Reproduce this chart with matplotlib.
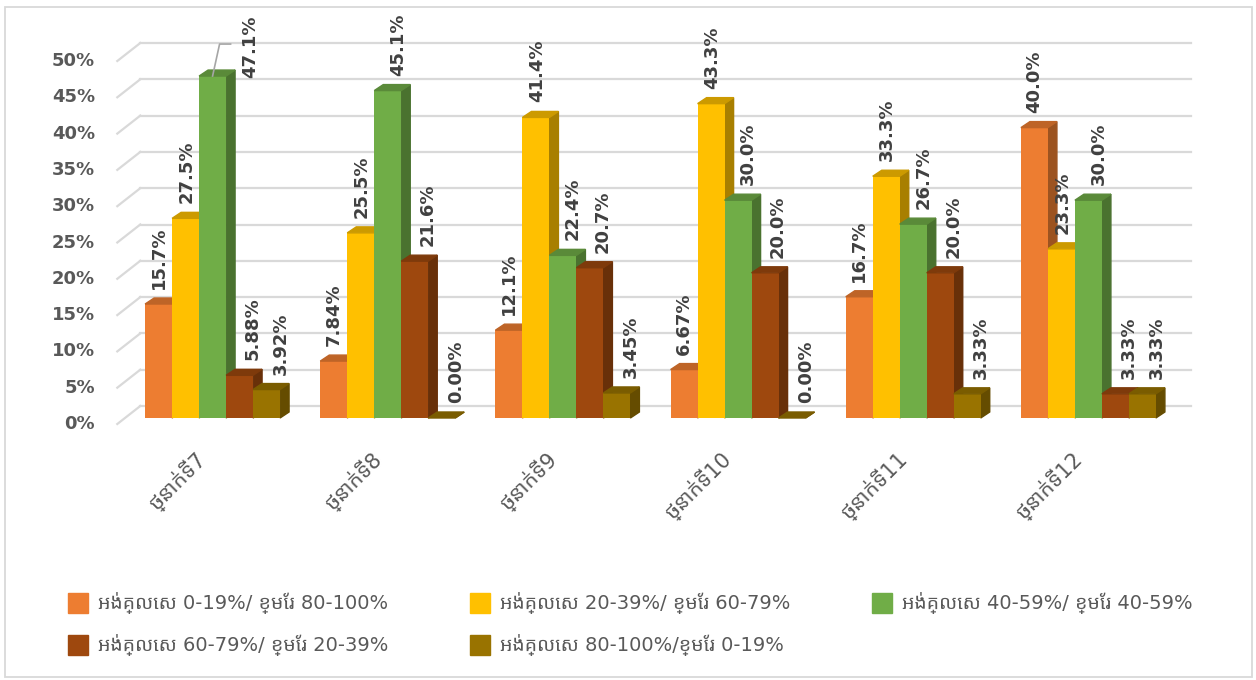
import matplotlib
matplotlib.use("Agg")
import matplotlib.pyplot as plt
from matplotlib.patches import Polygon, Rectangle
from matplotlib import font_manager, ft2font


# grade levels and the five score bands (percent of students)
grades = ["ថ្នាក់ទី7", "ថ្នាក់ទី8", "ថ្នាក់ទី9", "ថ្នាក់ទី10", "ថ្នាក់ទី11", "ថ្នាក់ទី12"]
band_names = [
    "អង់គ្លេស 0-19%/ ខ្មែរ 80-100%",
    "អង់គ្លេស 20-39%/ ខ្មែរ 60-79%",
    "អង់គ្លេស 40-59%/ ខ្មែរ 40-59%",
    "អង់គ្លេស 60-79%/ ខ្មែរ 20-39%",
    "អង់គ្លេស 80-100%/ខ្មែរ 0-19%",
]
band_0_19 = [15.7, 7.84, 12.1, 6.67, 16.7, 40.0]
band_20_39 = [27.5, 25.5, 41.4, 43.3, 33.3, 23.3]
band_40_59 = [47.1, 45.1, 22.4, 30.0, 26.7, 30.0]
band_60_79 = [5.88, 21.6, 20.7, 20.0, 20.0, 3.33]
band_80_100 = [3.92, 0.00, 3.45, 0.00, 3.33, 3.33]
bands = [band_0_19, band_20_39, band_40_59, band_60_79, band_80_100]
y_ticks = [0, 5, 10, 15, 20, 25, 30, 35, 40, 45, 50]

colors = ["#ED7D31", "#FFC000", "#70AD47", "#9E480E", "#997300"]


def khmer_family():
    # pick an installed font with Khmer glyphs, proportional sans preferred
    found = []
    for f in font_manager.fontManager.ttflist:
        try:
            if 0x1780 in ft2font.FT2Font(f.fname).get_charmap():
                found.append(f.name)
        except Exception:
            pass
    if not found:
        return None

    def rank(name):
        n = name.lower()
        return ('khmer' not in n, 'mono' in n, 'sans' not in n, n)
    return sorted(set(found), key=rank)[0]


kh = khmer_family()
plt.rcParams['font.family'] = ['DejaVu Sans', kh] if kh else ['DejaVu Sans']


def shade(hex_color, k):
    r, g, b = matplotlib.colors.to_rgb(hex_color)
    return (r * k, g * k, b * k)


def fmt(v):
    return f"{v:.1f}%" if v >= 10 else f"{v:.2f}%"


W, H = 1256, 680
fig = plt.figure(figsize=(W / 100, H / 100), dpi=100)
ax = fig.add_axes([125 / W, 1 - 418 / H, 1051 / W, 363 / H])
ax.set_xlim(-0.5, 5.5)
ax.set_ylim(0, 50)
ax.axis('off')

ux = 6 / 1051   # data units per pixel
uy = 50 / 363

# back wall gridlines and floor edges
wall_dx, wall_dy = 15.3 * ux, 12 * uy
edge_dx, edge_dy = -7.7 * ux, -6 * uy
for v in y_ticks:
    ax.plot([-0.5 + wall_dx, 5.5 + wall_dx], [v + wall_dy] * 2,
            color="#d9d9d9", lw=1.6, zorder=1, clip_on=False)
    ax.plot([-0.5 + edge_dx, -0.5 + wall_dx], [v + edge_dy, v + wall_dy],
            color="#d9d9d9", lw=1.6, zorder=1, clip_on=False)
    ax.text(-0.5 + (95 - 125) * ux, v + edge_dy, f"{v}%", ha='right', va='center',
            fontsize=13, fontweight='bold', color="#595959")

# 3-D style columns
bw = 27 / 175.2
dx, dy = 9 * ux, 6 * uy
label_shift = [0, 1, 10, 13, 14]
nudges = {(2, 0): (38, -17)}
for j, vals in enumerate(bands):
    z = 10 + 3 * j
    lefts = [i - 2.5 * bw + j * bw for i in range(len(grades))]
    ax.bar(lefts, vals, width=bw, align='edge', color=colors[j], zorder=z + 1,
           clip_on=False)
    for i, (L, h) in enumerate(zip(lefts, vals)):
        side = [(L + bw, 0), (L + bw + dx, dy), (L + bw + dx, h + dy), (L + bw, h)]
        top = [(L, h), (L + dx, h + dy), (L + bw + dx, h + dy), (L + bw, h)]
        ax.add_patch(Polygon(side, closed=True, color=shade(colors[j], 0.66),
                             zorder=z, clip_on=False))
        ax.add_patch(Polygon(top, closed=True, color=shade(colors[j], 0.8),
                             zorder=z + 2, clip_on=False))
        cx = L + bw / 2
        sx, sy = nudges.get((j, i), (label_shift[j], 0))
        ax.text(cx + sx * ux, h + (15 + sy) * uy, fmt(h), rotation=90,
                ha='center', va='bottom', fontsize=13, fontweight='bold',
                color="#404040", zorder=40)
        if (j, i) in nudges:
            ax.plot([cx, cx + 7 * ux, cx + 18 * ux], [h, h + 32 * uy, h + 32 * uy],
                    color="#a6a6a6", lw=1.2, zorder=40, clip_on=False)

# category labels
for i, g in enumerate(grades):
    ax.text(i - 10 * ux, -38 * uy, g, rotation=45, rotation_mode='anchor',
            ha='right', va='center', fontsize=15, color="#595959")

# legend
col_x = [68, 470, 872]
row_y = [603, 645]
for k, name in enumerate(band_names):
    x, yc = col_x[k % 3], row_y[k // 3]
    fig.add_artist(Rectangle((x / W, 1 - (yc + 10) / H), 20 / W, 20 / H,
                             transform=fig.transFigure, color=colors[k]))
    fig.text((x + 30) / W, 1 - yc / H, name, va='center', ha='left',
             fontsize=14, color="#595959")

# chart border
fig.add_artist(Rectangle((5 / W, 1 - 677 / H), 1247 / W, 670 / H,
                         transform=fig.transFigure, fill=False,
                         edgecolor="#d9d9d9", lw=1.3))

fig.savefig("out.png", dpi=100)
